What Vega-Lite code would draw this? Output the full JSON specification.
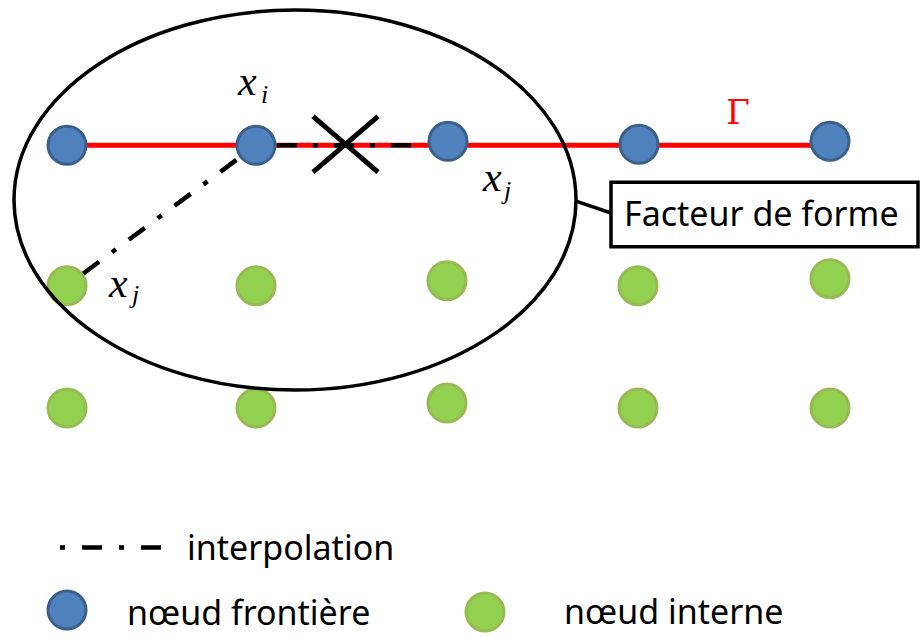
{
  "$schema": "https://vega.github.io/schema/vega-lite/v6.json",
  "width": 921,
  "height": 637,
  "autosize": {"type": "fit", "contains": "padding"},
  "padding": 0,
  "background": "white",
  "config": {"view": {"stroke": null}},
  "datasets": {
    "nodes": [
      {"x": 67, "y": 146, "type": "frontière"},
      {"x": 256, "y": 146, "type": "frontière"},
      {"x": 448, "y": 142, "type": "frontière"},
      {"x": 639, "y": 145, "type": "frontière"},
      {"x": 830, "y": 142, "type": "frontière"},
      {"x": 67, "y": 287, "type": "interne"},
      {"x": 256, "y": 287, "type": "interne"},
      {"x": 447, "y": 282, "type": "interne"},
      {"x": 638, "y": 287, "type": "interne"},
      {"x": 830, "y": 280, "type": "interne"},
      {"x": 67, "y": 410, "type": "interne"},
      {"x": 256, "y": 410, "type": "interne"},
      {"x": 447, "y": 405, "type": "interne"},
      {"x": 638, "y": 410, "type": "interne"},
      {"x": 830, "y": 410, "type": "interne"},
      {"x": 67, "y": 613, "type": "frontière"},
      {"x": 485, "y": 615, "type": "interne"}
    ],
    "gamma": [{"x": 67, "y": 146, "x2": 830, "y2": 146}],
    "interp": [
      {"x": 83, "y": 275, "x2": 240, "y2": 158},
      {"x": 277, "y": 146, "x2": 427, "y2": 146}
    ],
    "legendline": [{"x": 60, "y": 550, "x2": 161, "y2": 550}],
    "cross": [
      {"x": 313, "y": 117, "x2": 378, "y2": 173},
      {"x": 313, "y": 173, "x2": 378, "y2": 117}
    ],
    "connector": [{"x": 576, "y": 202, "x2": 611, "y2": 214}],
    "box": [{"x": 611, "y": 183, "x2": 918, "y2": 248}],
    "ellipse": [{"x": 295, "y": 201}],
    "sans": [
      {"x": 624, "y": 227, "label": "Facteur de forme"},
      {"x": 187, "y": 563, "label": "interpolation"},
      {"x": 127, "y": 628, "label": "nœud frontière"},
      {"x": 564, "y": 627, "label": "nœud interne"}
    ],
    "mathx": [
      {"x": 238, "y": 95, "label": "x"},
      {"x": 109, "y": 298, "label": "x"},
      {"x": 483, "y": 192, "label": "x"}
    ],
    "subs": [
      {"x": 261, "y": 103, "label": "i"},
      {"x": 132, "y": 304, "label": "j"},
      {"x": 504, "y": 200, "label": "j"}
    ],
    "gammalabel": [{"x": 738, "y": 125, "label": "Γ"}]
  },
  "encoding": {
    "x": {"field": "x", "type": "quantitative", "scale": {"domain": [0, 921], "nice": false, "zero": false}, "axis": null},
    "y": {"field": "y", "type": "quantitative", "scale": {"domain": [0, 637], "nice": false, "zero": false, "reverse": true}, "axis": null}
  },
  "layer": [
    {
      "data": {"name": "gamma"},
      "mark": {"type": "rule", "color": "#FF0000", "strokeWidth": 5},
      "encoding": {"x2": {"field": "x2"}, "y2": {"field": "y2"}}
    },
    {
      "data": {"name": "interp"},
      "mark": {"type": "rule", "color": "#000000", "strokeWidth": 4.5, "strokeDash": [20, 16, 5, 16]},
      "encoding": {"x2": {"field": "x2"}, "y2": {"field": "y2"}}
    },
    {
      "data": {"name": "legendline"},
      "mark": {"type": "rule", "color": "#000000", "strokeWidth": 4.5, "strokeDash": [5, 17, 20, 17]},
      "encoding": {"x2": {"field": "x2"}, "y2": {"field": "y2"}}
    },
    {
      "data": {"name": "cross"},
      "mark": {"type": "rule", "color": "#000000", "strokeWidth": 5},
      "encoding": {"x2": {"field": "x2"}, "y2": {"field": "y2"}}
    },
    {
      "data": {"name": "nodes"},
      "mark": {"type": "point", "shape": "circle", "filled": true, "size": 1444, "strokeWidth": 3, "opacity": 1},
      "encoding": {
        "fill": {"field": "type", "type": "nominal", "scale": {"domain": ["frontière", "interne"], "range": ["#4F81BD", "#92D050"]}, "legend": null},
        "stroke": {"field": "type", "type": "nominal", "scale": {"domain": ["frontière", "interne"], "range": ["#3A5F8B", "#98B954"]}, "legend": null}
      }
    },
    {
      "data": {"name": "ellipse"},
      "mark": {"type": "point", "shape": "M -1 0 A 1 0.676 0 1 0 1 0 A 1 0.676 0 1 0 -1 0 Z", "filled": false, "size": 315844, "strokeWidth": 3.5, "color": "#000000", "opacity": 1}
    },
    {
      "data": {"name": "connector"},
      "mark": {"type": "rule", "color": "#000000", "strokeWidth": 3.5},
      "encoding": {"x2": {"field": "x2"}, "y2": {"field": "y2"}}
    },
    {
      "data": {"name": "box"},
      "mark": {"type": "rect", "fill": "#FFFFFF", "stroke": "#000000", "strokeWidth": 3.5},
      "encoding": {"x2": {"field": "x2"}, "y2": {"field": "y2"}}
    },
    {
      "data": {"name": "sans"},
      "mark": {"type": "text", "font": "Noto Sans", "fontSize": 34, "align": "left", "baseline": "alphabetic", "color": "#000000"},
      "encoding": {"text": {"field": "label"}}
    },
    {
      "data": {"name": "mathx"},
      "mark": {"type": "text", "font": "Liberation Serif", "fontStyle": "italic", "fontSize": 42, "align": "left", "baseline": "alphabetic", "color": "#000000"},
      "encoding": {"text": {"field": "label"}}
    },
    {
      "data": {"name": "subs"},
      "mark": {"type": "text", "font": "Liberation Serif", "fontStyle": "italic", "fontSize": 26, "align": "left", "baseline": "alphabetic", "color": "#000000"},
      "encoding": {"text": {"field": "label"}}
    },
    {
      "data": {"name": "gammalabel"},
      "mark": {"type": "text", "font": "DejaVu Serif", "fontSize": 34, "align": "center", "baseline": "alphabetic", "color": "#FF0000"},
      "encoding": {"text": {"field": "label"}}
    }
  ]
}
